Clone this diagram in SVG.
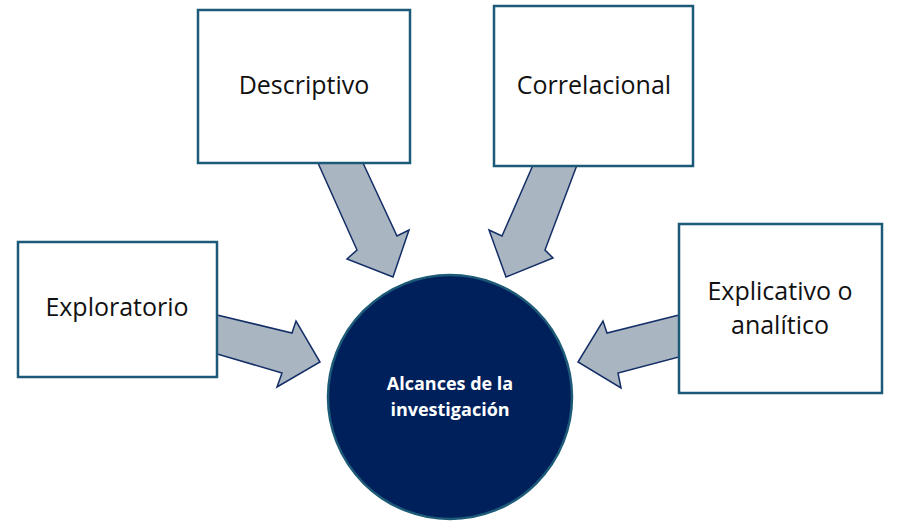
<svg xmlns="http://www.w3.org/2000/svg" width="900" height="525" viewBox="0 0 900 525">
<style>
.box{fill:#fff;stroke:#1d5a78;stroke-width:2.5}
.arr{fill:#a9b5c1;stroke:#132e66;stroke-width:1.5;stroke-linejoin:miter}
.t{font-family:"Open Sans","Liberation Sans",sans-serif;font-size:25px;fill:#111;text-anchor:middle}
.c{font-family:"Open Sans","Liberation Sans",sans-serif;font-size:18px;font-weight:bold;fill:#fff;text-anchor:middle}
</style>
<rect width="900" height="525" fill="#fff"/>
<g id="connectors">
<polygon class="arr" points="318,163 363,163 397,236 409,230 393,277 347,259 357,250"/>
<polygon class="arr" points="533,165 577,165 545,250 553,258 506,277 489,230 502,236"/>
<polygon class="arr" points="217,315 292,333 296,321 320,362 277,387 282,373 217,354"/>
<polygon class="arr" points="679,315 607,333 603,321 578,362 621,388 618,373 679,357"/>
</g>
<g id="descriptivo"><rect class="box" x="198" y="10" width="212" height="153"/><text class="t" x="304" y="94">Descriptivo</text></g>
<g id="correlacional"><rect class="box" x="494" y="6" width="199" height="160"/><text class="t" x="594" y="94">Correlacional</text></g>
<g id="exploratorio"><rect class="box" x="18" y="242" width="199" height="135"/><text class="t" x="117" y="316">Exploratorio</text></g>
<g id="explicativo"><rect class="box" x="679" y="224" width="203" height="169"/><text class="t" x="780" y="300">Explicativo o</text><text class="t" x="780" y="334">analítico</text></g>
<g id="alcances"><circle cx="450" cy="397" r="122" fill="#00205b" stroke="#1d5a78" stroke-width="2.5"/><text class="c" x="450" y="390">Alcances de la</text><text class="c" x="450" y="416">investigación</text></g>
</svg>
